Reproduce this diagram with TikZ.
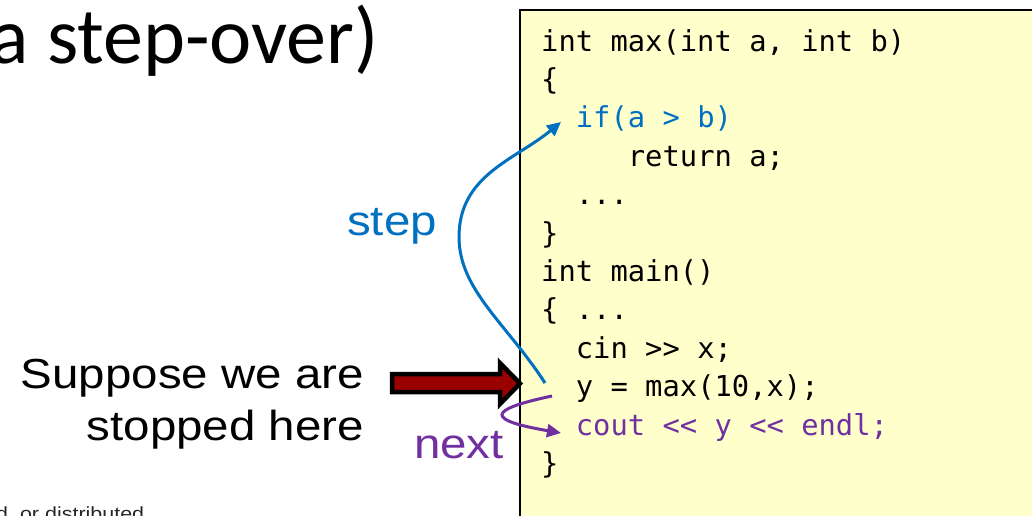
\documentclass[tikz,border=0pt]{standalone}
\usepackage{fontspec}
\setmainfont{Liberation Sans}[FakeStretch=1.13]
\setmonofont{DejaVu Sans Mono}
\newfontfamily\titlefont{Carlito}
\usetikzlibrary{arrows.meta}

\definecolor{codebg}{HTML}{FFFFCC}
\definecolor{stepblue}{HTML}{0070C0}
\definecolor{nextpurple}{HTML}{7030A0}
\definecolor{pcred}{HTML}{990000}

\begin{document}
\begin{tikzpicture}[x=1pt, y=-1pt,
  codeline/.style={anchor=base west, inner sep=0pt, font=\fontsize{28.8}{30}\ttfamily},
  biglabel/.style={inner sep=0pt, font=\fontsize{42}{50}\selectfont},
  flow/.style={line width=3pt, -{Triangle[length=14pt, width=13pt]}},
]
\useasboundingbox (0,0) rectangle (1032,515);
\fill[white] (0,0) rectangle (1032,515);

% slide title (partly off the left edge)
\node[anchor=base west, inner sep=0pt, font=\fontsize{80}{90}\titlefont] (title) at (-9.5,63) {a step-over)};

% footer fragment
\node[anchor=base west, inner sep=0pt, text=black!85, font=\fontsize{19}{21}\selectfont] (footer) at (-4,520) {d, or distributed};

% code panel
\draw[fill=codebg, line width=2pt] (520,10) rectangle (1032.5,540);

\def\colw{17.34}
\node[codeline] (sig)     at (541,51)            {int max(int a, int b)};
\node[codeline] (ob1)     at (541,89.4)          {\{};
\node[codeline, text=stepblue] (ifline) at ({541+2*\colw},127.8) {if(a > b)};
\node[codeline] (ret)     at ({541+5*\colw},166.2) {return a;};
\node[codeline] (dots1)   at ({541+2*\colw},204.6) {...};
\node[codeline] (cb1)     at (541,243)           {\}};
\node[codeline] (mainsig) at (541,281.4)         {int main()};
\node[codeline] (ob2)     at (541,319.8)         {\{ ...};
\node[codeline] (cin)     at ({541+2*\colw},358.2) {cin >> x;};
\node[codeline] (call)    at ({541+2*\colw},396.6) {y = max(10,x);};
\node[codeline, text=nextpurple] (coutline) at ({541+2*\colw},435) {cout << y << endl;};
\node[codeline] (cb2)     at (541,473.4)         {\}};

% left-hand captions
\node[biglabel, anchor=base east] (sup1) at (364,388) {Suppose we are};
\node[biglabel, anchor=base east] (sup2) at (364,440) {stopped here};
\node[biglabel, anchor=base west, text=stepblue]   (steplbl) at (347,235) {step};
\node[biglabel, anchor=base west, text=nextpurple] (nextlbl) at (414,458) {next};

% current-line marker
\draw[fill=pcred, line width=4.5pt, miter limit=10]
  (392,374) -- (500,374) -- (500,363) -- (520,383.5) -- (500,404) -- (500,392) -- (392,392) -- cycle;

% step: into the called function
\coordinate (stepfrom) at (545,383);
\coordinate (stepbend) at (459,237);
\coordinate (stepto)   at (561,122);
\draw[flow, stepblue] (stepfrom) .. controls (507,324) and (459,290) .. (stepbend)
  .. controls (459,175) and (515,160) .. (stepto);

% next: over the call to the following line
\coordinate (nextfrom) at (552,396);
\coordinate (nextto)   at (561,433);
\draw[flow, nextpurple] (nextfrom) .. controls (486,410) and (486,420) .. (nextto);
\end{tikzpicture}
\end{document}
